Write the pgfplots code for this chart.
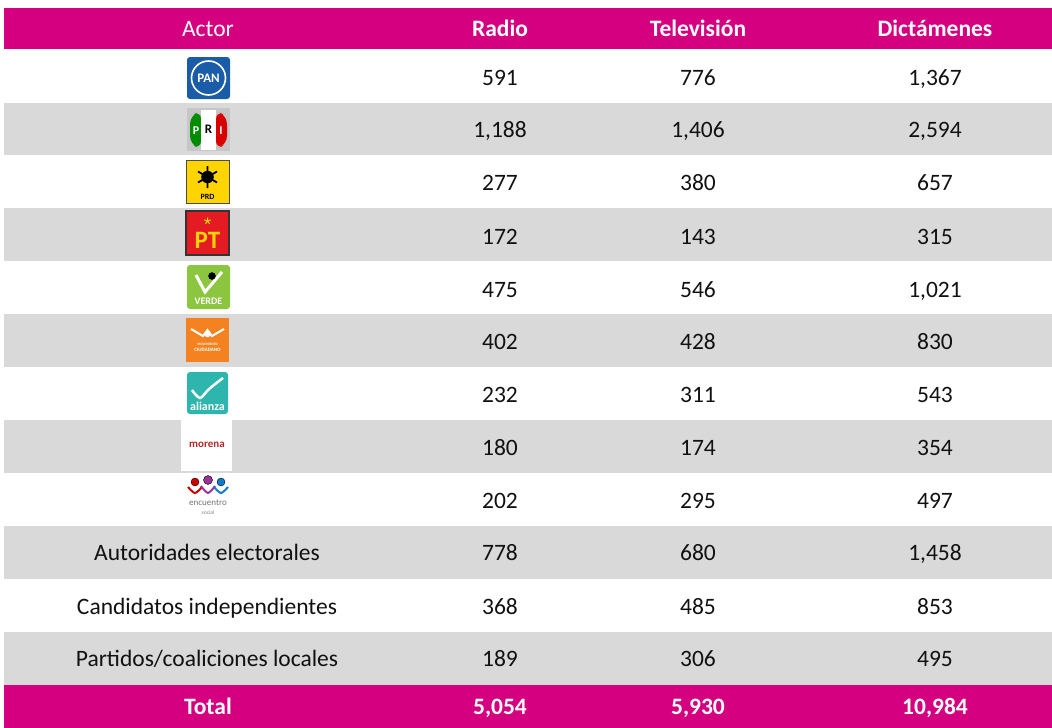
\documentclass[border=0pt]{standalone}
\usepackage{pgfplots}
\pgfplotsset{compat=1.18}
\usepackage{fontspec}
\setmainfont{Carlito}
\definecolor{mag}{HTML}{D5007F}
\definecolor{rowgray}{HTML}{D9D9D9}
\definecolor{txt}{HTML}{111111}
\definecolor{panblue}{HTML}{1B5CA8}
\definecolor{prdyel}{HTML}{FFD400}
\definecolor{ptred}{HTML}{E41B23}
\definecolor{verde}{HTML}{8CC640}
\definecolor{mcorange}{HTML}{F58220}
\definecolor{teal}{HTML}{2DB5AE}
\definecolor{morena}{HTML}{B0282A}
% filled rectangle in pixel coordinates: colour, x0, y0, x1, y1
\newcommand{\rectfill}[5]{\addplot[fill=#1,draw=none] coordinates {(#2,#3) (#4,#3) (#4,#5) (#2,#5)} -- cycle;}
% centred labels (logos) and baseline labels (table text)
\pgfplotsset{lbl/.style={draw=none, mark=none, nodes near coords, point meta=explicit symbolic,
  nodes near coords style={anchor=center, inner sep=0pt, font=#1}},
  tbl/.style={draw=none, mark=none, nodes near coords, point meta=explicit symbolic,
  nodes near coords style={anchor=base, inner sep=0pt, font=#1}}}
\begin{document}
\begin{tikzpicture}
\begin{axis}[scale only axis, width=1052pt, height=728pt,
  xmin=0, xmax=1052, ymin=0, ymax=728, y dir=reverse,
  axis line style={draw=none}, ticks=none, clip=false]
% header, stripes, total
\rectfill{mag}{4}{8}{1052}{49}
\rectfill{rowgray}{4}{103}{1052}{155}
\rectfill{rowgray}{4}{208}{1052}{261}
\rectfill{rowgray}{4}{314}{1052}{367}
\rectfill{rowgray}{4}{420}{1052}{473}
\rectfill{rowgray}{4}{526}{1052}{579}
\rectfill{rowgray}{4}{632}{1052}{685}
\rectfill{mag}{4}{685}{1052}{728}

% header and total text
\addplot[tbl={\fontsize{23.5}{26}\selectfont}, nodes near coords style={text=white}] coordinates {
  (208,36) [Actor]};
\addplot[tbl={\bfseries\fontsize{23.5}{26}\selectfont}, nodes near coords style={text=white}] coordinates {
  (500,36) [Radio] (698,36) [Televisión] (935,36) [Dictámenes]
  (208,714) [Total] (500,714) [{5,054}] (698,714) [{5,930}] (935,714) [{10,984}]};

% body values
\addplot[tbl={\fontsize{23.5}{26}\selectfont}, nodes near coords style={text=txt}] coordinates {
  (500,85) [591] (698,85) [776] (935,85) [{1,367}]
  (500,137) [{1,188}] (698,137) [{1,406}] (935,137) [{2,594}]
  (500,190) [277] (698,190) [380] (935,190) [657]
  (500,244) [172] (698,244) [143] (935,244) [315]
  (500,297) [475] (698,297) [546] (935,297) [{1,021}]
  (500,349) [402] (698,349) [428] (935,349) [830]
  (500,402) [232] (698,402) [311] (935,402) [543]
  (500,455) [180] (698,455) [174] (935,455) [354]
  (500,508) [202] (698,508) [295] (935,508) [497]
  (207,560) [Autoridades electorales] (500,560) [778] (698,560) [680] (935,560) [{1,458}]
  (207,614) [Candidatos independientes] (500,614) [368] (698,614) [485] (935,614) [853]
  (207,666) [Partidos/coaliciones locales] (500,666) [189] (698,666) [306] (935,666) [495]};

% --- party logos (approximations) ---
% PAN
\addplot[fill=panblue, draw=none, rounded corners=3pt] coordinates {(187,57) (230,57) (230,99) (187,99)} -- cycle;
\addplot[only marks, mark=o, mark size=17, white, line width=1.6pt] coordinates {(208.5,78)};
\addplot[lbl={\bfseries\fontsize{13}{14}\selectfont}, nodes near coords style={text=white}] coordinates {(208.5,78) [PAN]};
% PRI
\rectfill{gray!45}{187}{108}{230}{151}
\addplot[fill=green!55!black, draw=none, rounded corners=8pt] coordinates {(201,111) (190,116) (190,144) (201,149)} -- cycle;
\rectfill{white}{201}{110}{216}{150}
\addplot[fill=red!85!black, draw=none, rounded corners=8pt] coordinates {(216,111) (227,116) (227,144) (216,149)} -- cycle;
\addplot[lbl={\bfseries\fontsize{12}{13}\selectfont}, nodes near coords style={text=white}] coordinates {(196,131) [P] (221,131) [I]};
\addplot[lbl={\bfseries\fontsize{13}{14}\selectfont}, nodes near coords style={text=black}] coordinates {(208.5,129) [R]};
% PRD
\addplot[fill=prdyel, draw=black!70, line width=1pt] coordinates {(186,160) (229,160) (229,203) (186,203)} -- cycle;
\addplot[only marks, mark=asterisk, mark size=11, black, line width=1.8pt] coordinates {(207.5,177)};
\addplot[only marks, mark=*, mark size=6, black, fill=black] coordinates {(207.5,177)};
\addplot[lbl={\bfseries\fontsize{8}{9}\selectfont}, nodes near coords style={text=black}] coordinates {(207.5,197) [PRD]};
% PT
\addplot[fill=ptred, draw=black!80, line width=1.2pt] coordinates {(186,211) (229,211) (229,255) (186,255)} -- cycle;
\addplot[only marks, mark=star, mark size=3.5, prdyel, fill=prdyel, line width=1pt] coordinates {(207.5,221)};
\addplot[lbl={\bfseries\fontsize{25}{26}\selectfont}, nodes near coords style={text=prdyel}] coordinates {(207.5,240) [PT]};
% Verde
\addplot[fill=verde, draw=none, rounded corners=3pt] coordinates {(187,265) (230,265) (230,309) (187,309)} -- cycle;
\addplot[white, line width=3pt, mark=none] coordinates {(196,275) (205,292) (222,272)};
\addplot[only marks, mark=*, mark size=3.5, black] coordinates {(212,276)};
\addplot[lbl={\bfseries\fontsize{10}{11}\selectfont}, nodes near coords style={text=white}] coordinates {(208.5,301) [VERDE]};
% Movimiento Ciudadano
\rectfill{mcorange}{186}{318}{229}{362}
\addplot[white, line width=2pt, mark=none] coordinates {(191,329) (203,336) (207.5,330) (212,336) (224,329)};
\addplot[only marks, mark=*, mark size=3, white] coordinates {(207.5,334)};
\addplot[lbl={\bfseries\fontsize{3.5}{4}\selectfont}, nodes near coords style={text=white}] coordinates {(207.5,344) [MOVIMIENTO]};
\addplot[lbl={\bfseries\fontsize{5}{6}\selectfont}, nodes near coords style={text=white}] coordinates {(207.5,350) [CIUDADANO]};
% Nueva Alianza
\addplot[fill=teal, draw=none, rounded corners=3pt] coordinates {(187,372) (228,372) (228,414) (187,414)} -- cycle;
\addplot[white, line width=2.5pt, mark=none, smooth] coordinates {(192,390) (200,398) (209,389) (223,378)};
\addplot[lbl={\bfseries\fontsize{12}{13}\selectfont}, nodes near coords style={text=white}] coordinates {(207.5,406) [alianza]};
% Morena
\rectfill{white}{181}{420}{232}{471}
\addplot[lbl={\bfseries\fontsize{11}{12}\selectfont}, nodes near coords style={text=morena}] coordinates {(207,445) [morena]};
% Encuentro Social
\addplot[only marks, mark=*, mark size=4, draw=none, fill=red!80!black] coordinates {(195,482)};
\addplot[only marks, mark=*, mark size=4.5, draw=none, fill=violet!80] coordinates {(208,480)};
\addplot[only marks, mark=*, mark size=4, draw=none, fill=cyan!60!blue] coordinates {(221,482)};
\addplot[red!80!black, line width=2pt, smooth, mark=none] coordinates {(188,487) (195,493) (202,487)};
\addplot[violet!80, line width=2pt, smooth, mark=none] coordinates {(201,486) (208,493) (215,486)};
\addplot[cyan!60!blue, line width=2pt, smooth, mark=none] coordinates {(214,487) (221,493) (228,487)};
\addplot[lbl={\fontsize{9}{10}\selectfont}, nodes near coords style={text=gray!90!black}] coordinates {(208,503) [encuentro]};
\addplot[lbl={\fontsize{5.5}{6}\selectfont}, nodes near coords style={text=gray}] coordinates {(208,513) [social]};
\end{axis}
\end{tikzpicture}
\end{document}
